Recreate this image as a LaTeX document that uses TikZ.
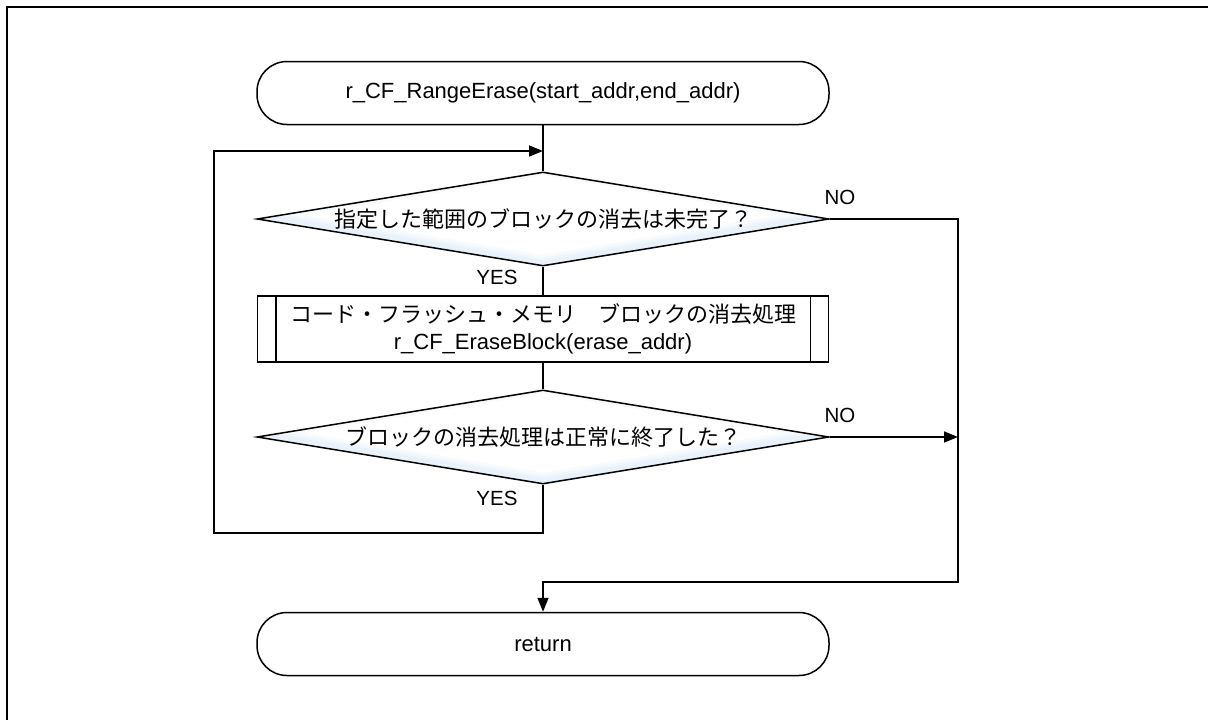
\documentclass[tikz,border=0pt]{standalone}
\usepackage{fontspec}
\setmainfont{Liberation Sans}
\newfontfamily\jp{Noto Sans CJK JP}
\usetikzlibrary{shapes.geometric,arrows.meta,backgrounds}

\definecolor{glowblue}{RGB}{222,234,248}

\tikzset{
  line/.style={line width=1.5pt, draw=black},
  arr/.style={line, -{Triangle[length=14pt,width=11pt]}},
  terminal/.style={line, rectangle, rounded corners=30pt, minimum width=572pt,
                   minimum height=63pt, inner sep=0pt, font=\fontsize{22}{26}\selectfont},
  decision/.style={line, diamond, shape aspect=6.085, minimum width=572pt, minimum height=94pt,
                   inner sep=0pt, font=\jp\fontsize{22}{26}\selectfont},
  process/.style={line, rectangle, minimum width=571pt, minimum height=66pt,
                  inner sep=0pt, align=center, font=\fontsize{22}{27}\selectfont},
  lbl/.style={font=\fontsize{20.5}{24}\selectfont, inner sep=0pt},
}

% soft inner glow along the edges of a decision diamond
\newcommand{\diamondglow}[1]{%
  \begin{scope}
    \clip (#1.north) -- (#1.east) -- (#1.south) -- (#1.west) -- cycle;
    \foreach \w/\o in {16/0.2, 10/0.3, 5/0.4} {
      \draw[glowblue, line width=\w pt, opacity=\o, line join=round]
        ([yshift=4pt]#1.north) -- ([yshift=4pt]#1.east) -- ([yshift=4pt]#1.south)
        -- ([yshift=4pt]#1.west) -- cycle;
    }
  \end{scope}}

\begin{document}
\begin{tikzpicture}[x=1pt, y=-1pt]
  \useasboundingbox (0,0) rectangle (1208,720);
  \clip (0,0) rectangle (1208,720);

  % outer frame (only its top and left edges fall inside the page)
  \draw[line width=2.2pt] (7,7) rectangle (1240,760);

  % flow elements
  \node[terminal] (start) at (543,93) {r\_CF\_RangeErase(start\_addr,end\_addr)};
  \node[decision] (d1) at (543,219) {指定した範囲のブロックの消去は未完了？};
  \node[process]  (p)  at (543,329) {{\jp コード・フラッシュ・メモリ　ブロックの消去処理}\\r\_CF\_EraseBlock(erase\_addr)};
  \node[decision] (d2) at (543,437) {ブロックの消去処理は正常に終了した？};
  \node[terminal] (ret) at (543,644) {return};

  \begin{pgfonlayer}{background}
    \diamondglow{d1}
    \diamondglow{d2}
  \end{pgfonlayer}

  % double side bars of the predefined process box
  \draw[line] ([xshift=19pt]p.north west) -- ([xshift=19pt]p.south west);
  \draw[line] ([xshift=-19pt]p.north east) -- ([xshift=-19pt]p.south east);

  % routing points
  \coordinate (lb) at (214,533);
  \coordinate (lm) at (543,151);
  \coordinate (rb) at (958,582);
  \coordinate (rm) at (958,437);

  % connectors
  \draw[line] (start.south) -- (d1.north);
  \draw[line] (d1.south) -- (p.north);
  \draw[line] (p.south) -- (d2.north);
  \draw[arr] (d2.south) |- (lb) |- (lm);
  \draw[arr] (d1.east) -| (rb) -| (ret.north);
  \draw[arr] (d2.east) -- (rm);

  % branch labels
  \node[lbl] (no1)  at (840,197) {NO};
  \node[lbl] (no2)  at (840,415) {NO};
  \node[lbl] (yes1) at (497,277) {YES};
  \node[lbl] (yes2) at (497,498) {YES};
\end{tikzpicture}
\end{document}
